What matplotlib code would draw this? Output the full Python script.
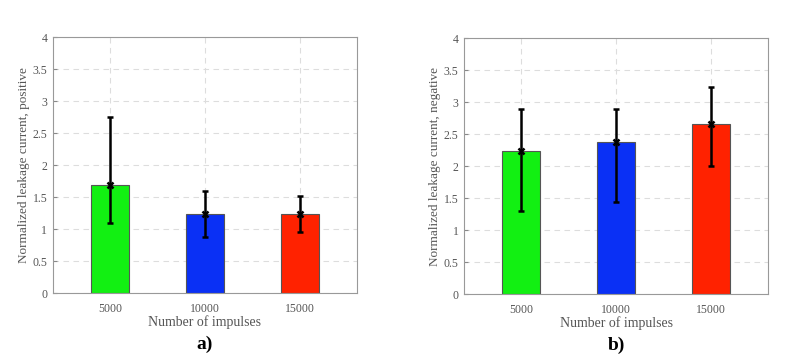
import numpy as np
import matplotlib
matplotlib.use('Agg')
import matplotlib.pyplot as plt

plt.rcParams['font.family'] = ['Liberation Serif', 'DejaVu Serif']

# data
impulses = ['5000', '10000', '15000']
bar_colors = ['#12f012', '#0a30f5', '#ff2200']

pos_mean = [1.69, 1.24, 1.24]
pos_low = [1.09, 0.87, 0.95]
pos_high = [2.75, 1.59, 1.52]

neg_mean = [2.23, 2.38, 2.66]
neg_low = [1.30, 1.44, 2.00]
neg_high = [2.89, 2.89, 3.23]

TXT = '#555555'


def draw_panel(ax, mean, low, high, ylabel, tag):
    x = np.arange(1, len(impulses) + 1)
    ax.bar(x, mean, width=0.4, color=bar_colors, edgecolor='#555555', linewidth=0.8, zorder=2)
    yerr = [np.array(mean) - np.array(low), np.array(high) - np.array(mean)]
    ax.errorbar(x, mean, yerr=yerr, fmt='x', color='black', ecolor='black',
                elinewidth=1.8, capsize=2, capthick=1.8, markersize=5, mew=1.8, zorder=3)
    ax.set_xlim(0.4, 3.6)
    ax.set_ylim(0, 4)
    ax.set_yticks(np.arange(0, 4.01, 0.5))
    ax.set_yticklabels(['0', '0.5', '1', '1.5', '2', '2.5', '3', '3.5', '4'])
    ax.set_xticks(x)
    ax.set_xticklabels(impulses)
    ax.tick_params(direction='in', length=3, colors='#888888', labelcolor=TXT, labelsize=8.5)
    ax.tick_params(axis='x', pad=7)
    ax.tick_params(axis='y', pad=4)
    ax.grid(True, linestyle=(0, (5, 4)), color='#dddddd', linewidth=0.8, zorder=0)
    for s in ax.spines.values():
        s.set_color('#999999')
        s.set_linewidth(0.8)
    ax.set_xlabel('Number of impulses', fontsize=10, color=TXT, labelpad=0)
    ax.set_ylabel(ylabel, fontsize=9.5, color=TXT, labelpad=2)
    ax.text(0.5, -0.2, tag, transform=ax.transAxes, ha='center', va='center',
            fontsize=14, fontweight='bold', color='black')


fig = plt.figure(figsize=(8, 3.57), dpi=100)
fig.patch.set_facecolor('white')
ax1 = fig.add_axes([0.066, 0.179, 0.38, 0.717])
ax2 = fig.add_axes([0.58, 0.176, 0.38, 0.717])

draw_panel(ax1, pos_mean, pos_low, pos_high, 'Normalized leakage current, positive', 'a)')
draw_panel(ax2, neg_mean, neg_low, neg_high, 'Normalized leakage current, negative', 'b)')

plt.savefig('out.png', dpi=100, facecolor='white')
